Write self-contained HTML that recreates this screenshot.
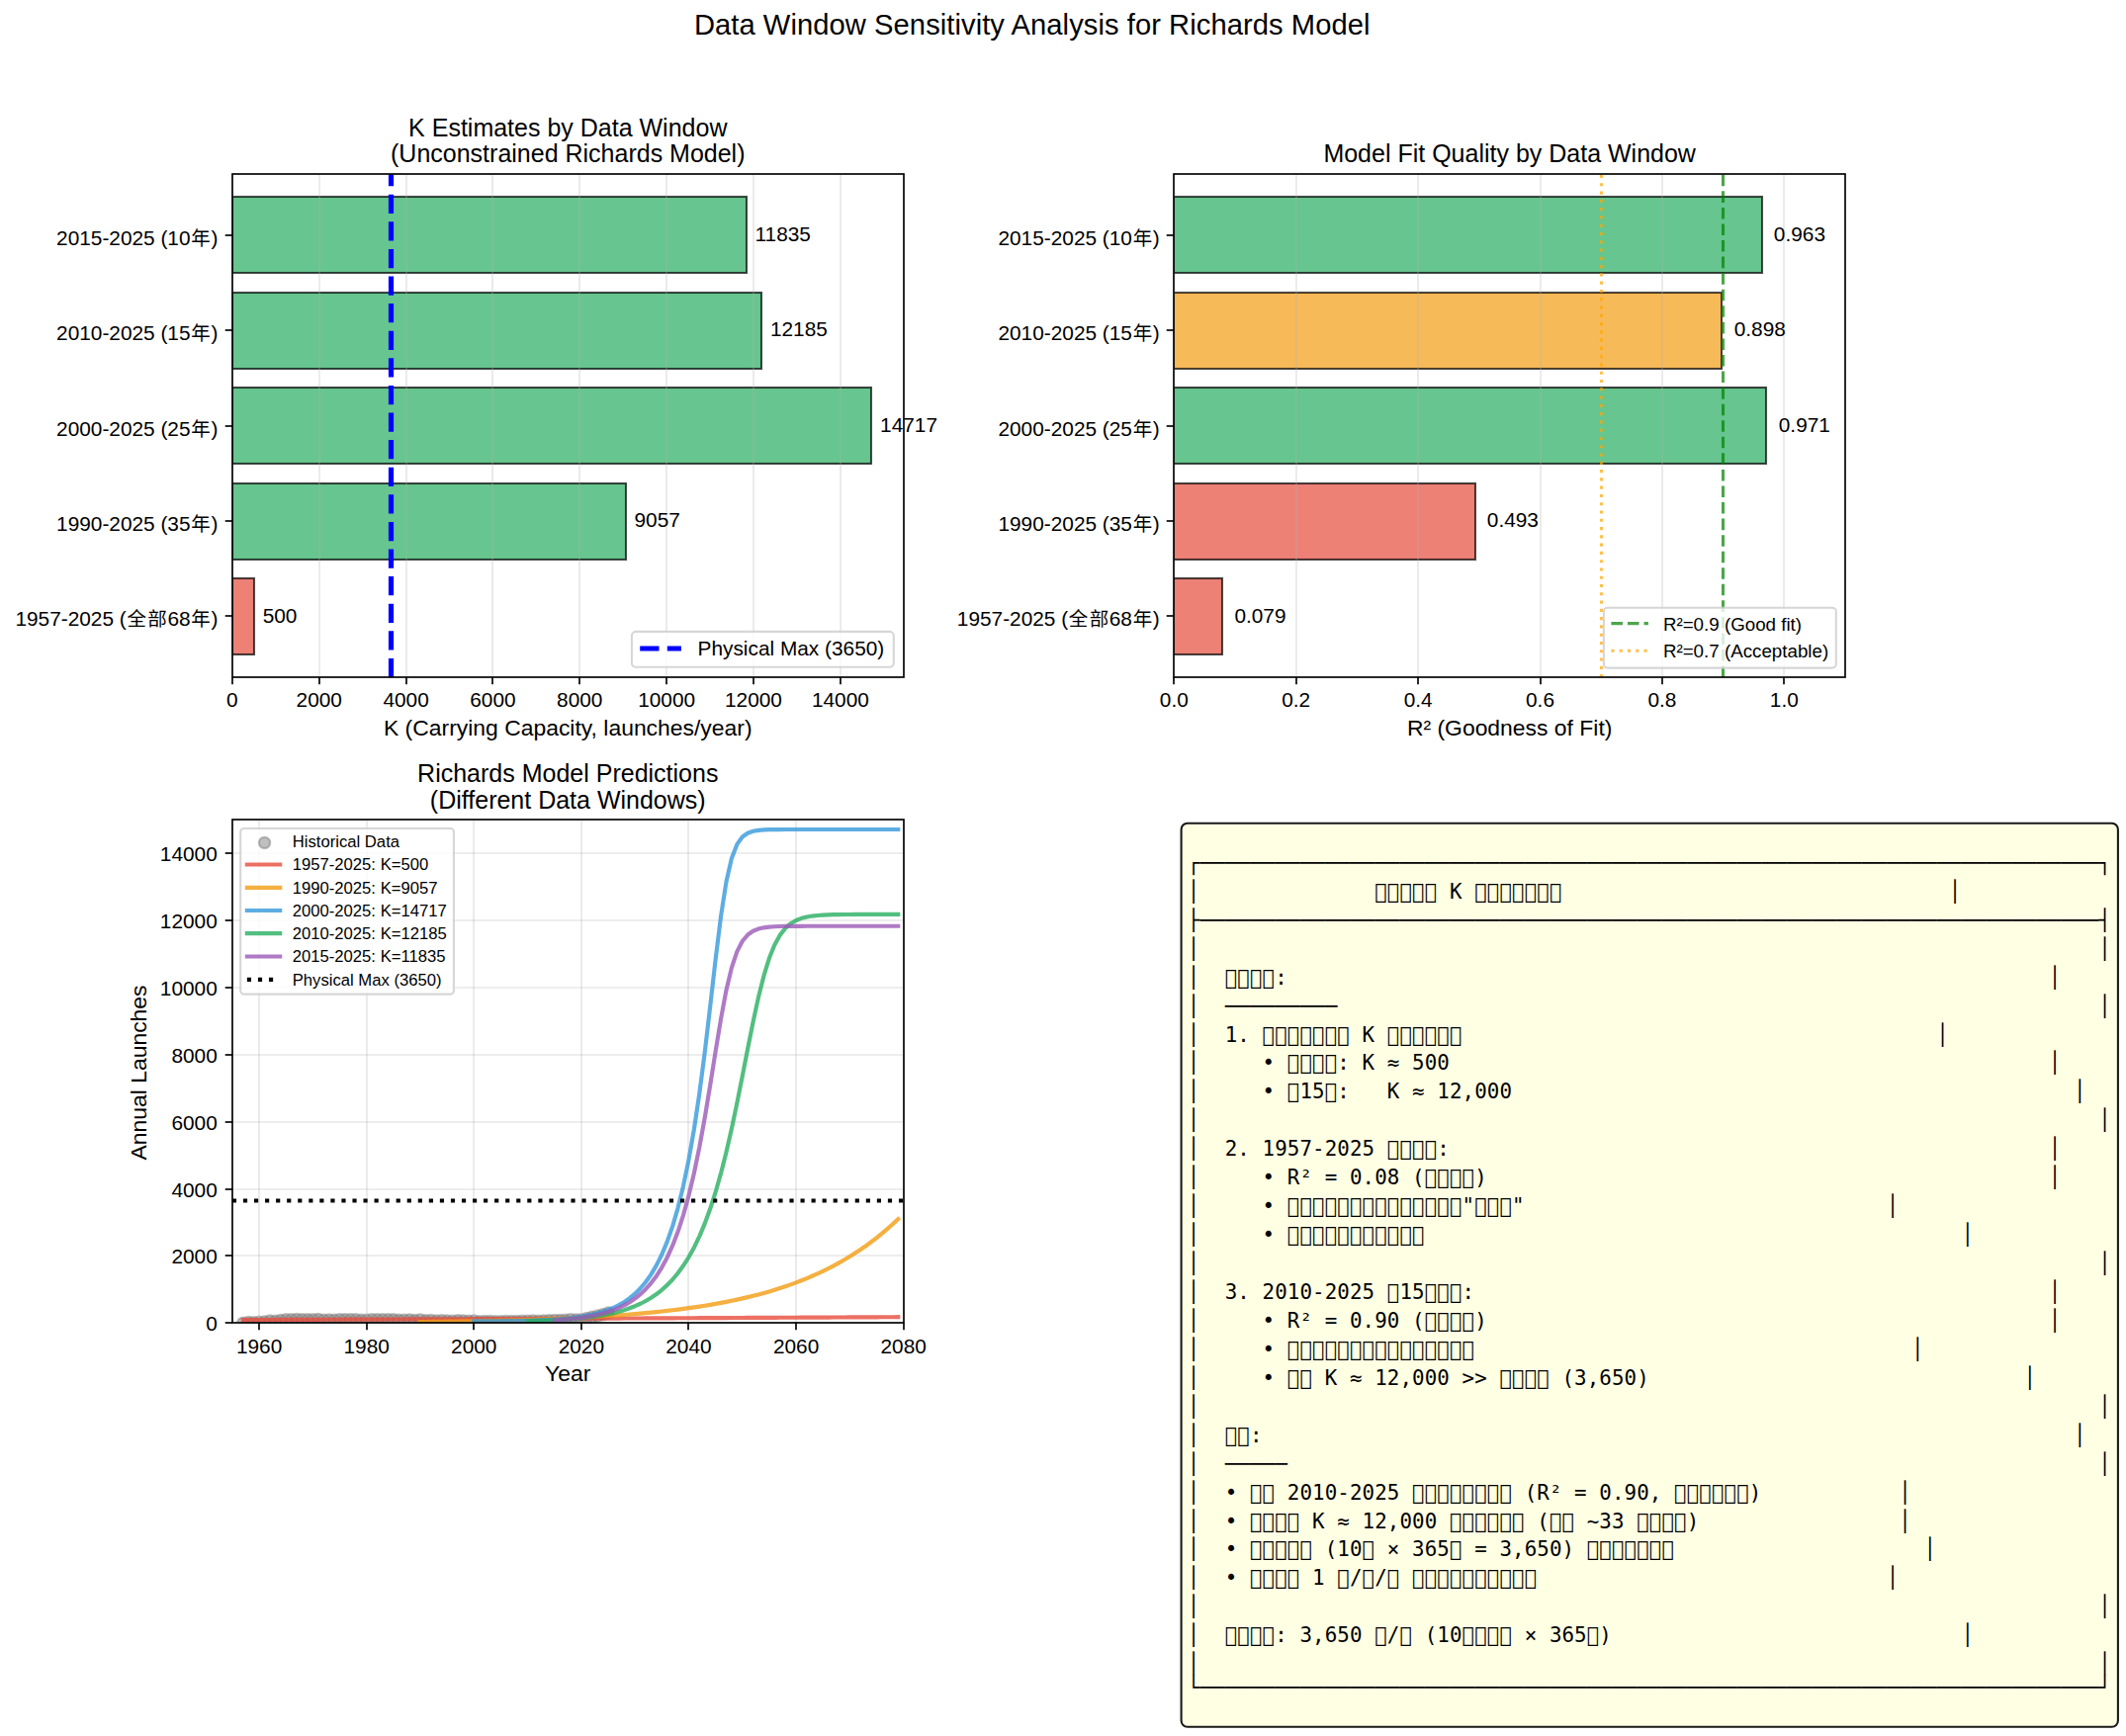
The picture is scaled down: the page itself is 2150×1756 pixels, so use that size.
<!DOCTYPE html>
<html lang="zh"><head><meta charset="utf-8"><title>Data Window Sensitivity Analysis for Richards Model</title>
<style>html,body{margin:0;padding:0;background:#fff}svg{display:block}.m text{white-space:pre}</style></head>
<body>
<svg width="2150" height="1756" viewBox="0 0 2150 1756" font-family="Liberation Sans, Noto Sans CJK SC, sans-serif">
<rect width="2150" height="1756" fill="#fff"/>
<defs>
<clipPath id="c1"><rect x="234.90" y="176.20" width="678.75" height="508.97"/></clipPath>
<clipPath id="c2"><rect x="1187.30" y="176.20" width="678.75" height="508.97"/></clipPath>
<clipPath id="c3"><rect x="234.90" y="829.40" width="678.75" height="508.90"/></clipPath>
</defs>
<text x="1043.70" y="34.90" font-size="29.167" text-anchor="middle" fill="#000" letter-spacing="0.06">Data Window Sensitivity Analysis for Richards Model</text>
<g clip-path="url(#c1)">
<rect x="235.00" y="199.00" width="520.00" height="77.00" fill="#27ae60" fill-opacity="0.7" stroke="#000" stroke-opacity="0.7" stroke-width="2.083"/>
<rect x="235.00" y="296.00" width="535.00" height="77.00" fill="#27ae60" fill-opacity="0.7" stroke="#000" stroke-opacity="0.7" stroke-width="2.083"/>
<rect x="235.00" y="392.00" width="646.00" height="77.00" fill="#27ae60" fill-opacity="0.7" stroke="#000" stroke-opacity="0.7" stroke-width="2.083"/>
<rect x="235.00" y="489.00" width="398.00" height="77.00" fill="#27ae60" fill-opacity="0.7" stroke="#000" stroke-opacity="0.7" stroke-width="2.083"/>
<rect x="235.00" y="585.00" width="22.00" height="77.00" fill="#e74c3c" fill-opacity="0.7" stroke="#000" stroke-opacity="0.7" stroke-width="2.083"/>
<line x1="235.00" y1="176.20" x2="235.00" y2="685.17" stroke="#b0b0b0" stroke-width="1.667" stroke-opacity="0.3"/>
<line x1="323.00" y1="176.20" x2="323.00" y2="685.17" stroke="#b0b0b0" stroke-width="1.667" stroke-opacity="0.3"/>
<line x1="411.00" y1="176.20" x2="411.00" y2="685.17" stroke="#b0b0b0" stroke-width="1.667" stroke-opacity="0.3"/>
<line x1="498.00" y1="176.20" x2="498.00" y2="685.17" stroke="#b0b0b0" stroke-width="1.667" stroke-opacity="0.3"/>
<line x1="586.00" y1="176.20" x2="586.00" y2="685.17" stroke="#b0b0b0" stroke-width="1.667" stroke-opacity="0.3"/>
<line x1="674.00" y1="176.20" x2="674.00" y2="685.17" stroke="#b0b0b0" stroke-width="1.667" stroke-opacity="0.3"/>
<line x1="762.00" y1="176.20" x2="762.00" y2="685.17" stroke="#b0b0b0" stroke-width="1.667" stroke-opacity="0.3"/>
<line x1="850.00" y1="176.20" x2="850.00" y2="685.17" stroke="#b0b0b0" stroke-width="1.667" stroke-opacity="0.3"/>
<line x1="395.50" y1="685.17" x2="395.50" y2="176.20" stroke="#0000ff" stroke-width="5.208" stroke-dasharray="19.27 8.33"/>
</g>
<text x="763.52" y="244.04" font-size="20.833" text-anchor="start" fill="#000" >11835</text>
<text x="778.90" y="340.44" font-size="20.833" text-anchor="start" fill="#000" >12185</text>
<text x="890.11" y="436.83" font-size="20.833" text-anchor="start" fill="#000" >14717</text>
<text x="641.50" y="533.23" font-size="20.833" text-anchor="start" fill="#000" >9057</text>
<text x="265.65" y="629.63" font-size="20.833" text-anchor="start" fill="#000" >500</text>
<rect x="235.00" y="176.00" width="679.00" height="509.00" fill="none" stroke="#000" stroke-width="1.667"/>
<line x1="235.00" y1="685.00" x2="235.00" y2="692.29" stroke="#000" stroke-width="1.667" />
<text x="234.90" y="715.00" font-size="20.833" text-anchor="middle" fill="#000" >0</text>
<line x1="323.00" y1="685.00" x2="323.00" y2="692.29" stroke="#000" stroke-width="1.667" />
<text x="322.75" y="715.00" font-size="20.833" text-anchor="middle" fill="#000" >2000</text>
<line x1="411.00" y1="685.00" x2="411.00" y2="692.29" stroke="#000" stroke-width="1.667" />
<text x="410.60" y="715.00" font-size="20.833" text-anchor="middle" fill="#000" >4000</text>
<line x1="498.00" y1="685.00" x2="498.00" y2="692.29" stroke="#000" stroke-width="1.667" />
<text x="498.44" y="715.00" font-size="20.833" text-anchor="middle" fill="#000" >6000</text>
<line x1="586.00" y1="685.00" x2="586.00" y2="692.29" stroke="#000" stroke-width="1.667" />
<text x="586.29" y="715.00" font-size="20.833" text-anchor="middle" fill="#000" >8000</text>
<line x1="674.00" y1="685.00" x2="674.00" y2="692.29" stroke="#000" stroke-width="1.667" />
<text x="674.14" y="715.00" font-size="20.833" text-anchor="middle" fill="#000" >10000</text>
<line x1="762.00" y1="685.00" x2="762.00" y2="692.29" stroke="#000" stroke-width="1.667" />
<text x="761.99" y="715.00" font-size="20.833" text-anchor="middle" fill="#000" >12000</text>
<line x1="850.00" y1="685.00" x2="850.00" y2="692.29" stroke="#000" stroke-width="1.667" />
<text x="849.84" y="715.00" font-size="20.833" text-anchor="middle" fill="#000" >14000</text>
<line x1="227.71" y1="238.00" x2="235.00" y2="238.00" stroke="#000" stroke-width="1.667" />
<text x="220.32" y="247.70" font-size="20.833" text-anchor="end" fill="#000" >2015-2025 (10<tspan font-size="19.479" dx="0.68" letter-spacing="1.35">年</tspan><tspan dx="-0.68">)</tspan></text>
<line x1="227.71" y1="334.00" x2="235.00" y2="334.00" stroke="#000" stroke-width="1.667" />
<text x="220.32" y="343.70" font-size="20.833" text-anchor="end" fill="#000" >2010-2025 (15<tspan font-size="19.479" dx="0.68" letter-spacing="1.35">年</tspan><tspan dx="-0.68">)</tspan></text>
<line x1="227.71" y1="431.00" x2="235.00" y2="431.00" stroke="#000" stroke-width="1.667" />
<text x="220.32" y="440.70" font-size="20.833" text-anchor="end" fill="#000" >2000-2025 (25<tspan font-size="19.479" dx="0.68" letter-spacing="1.35">年</tspan><tspan dx="-0.68">)</tspan></text>
<line x1="227.71" y1="527.00" x2="235.00" y2="527.00" stroke="#000" stroke-width="1.667" />
<text x="220.32" y="536.70" font-size="20.833" text-anchor="end" fill="#000" >1990-2025 (35<tspan font-size="19.479" dx="0.68" letter-spacing="1.35">年</tspan><tspan dx="-0.68">)</tspan></text>
<line x1="227.71" y1="623.00" x2="235.00" y2="623.00" stroke="#000" stroke-width="1.667" />
<text x="220.32" y="632.70" font-size="20.833" text-anchor="end" fill="#000" >1957-2025 (<tspan font-size="19.479" dx="0.68" letter-spacing="1.35">全部</tspan><tspan dx="-0.68">68</tspan><tspan font-size="19.479" dx="0.68" letter-spacing="1.35">年</tspan><tspan dx="-0.68">)</tspan></text>
<text x="574.27" y="138.00" font-size="25.000" text-anchor="middle" fill="#000" >K Estimates by Data Window</text>
<text x="574.27" y="164.00" font-size="25.000" text-anchor="middle" fill="#000" >(Unconstrained Richards Model)</text>
<text x="574.27" y="743.60" font-size="22.917" text-anchor="middle" fill="#000" >K (Carrying Capacity, launches/year)</text>
<rect x="638.90" y="638.90" width="264.90" height="35.90" rx="4.17" ry="4.17" fill="#fff" fill-opacity="0.8" stroke="#ccc" stroke-opacity="0.8" stroke-width="2.083"/>
<line x1="647.23" y1="656.00" x2="688.90" y2="656.00" stroke="#0000ff" stroke-width="5.208" stroke-dasharray="19.27 8.33"/>
<text x="705.57" y="663.00" font-size="20.833" text-anchor="start" fill="#000" >Physical Max (3650)</text>
<g clip-path="url(#c2)">
<rect x="1187.00" y="199.00" width="595.00" height="77.00" fill="#27ae60" fill-opacity="0.7" stroke="#000" stroke-opacity="0.7" stroke-width="2.083"/>
<rect x="1187.00" y="296.00" width="554.00" height="77.00" fill="#f39c12" fill-opacity="0.7" stroke="#000" stroke-opacity="0.7" stroke-width="2.083"/>
<rect x="1187.00" y="392.00" width="599.00" height="77.00" fill="#27ae60" fill-opacity="0.7" stroke="#000" stroke-opacity="0.7" stroke-width="2.083"/>
<rect x="1187.00" y="489.00" width="305.00" height="77.00" fill="#e74c3c" fill-opacity="0.7" stroke="#000" stroke-opacity="0.7" stroke-width="2.083"/>
<rect x="1187.00" y="585.00" width="49.00" height="77.00" fill="#e74c3c" fill-opacity="0.7" stroke="#000" stroke-opacity="0.7" stroke-width="2.083"/>
<line x1="1187.00" y1="176.20" x2="1187.00" y2="685.17" stroke="#b0b0b0" stroke-width="1.667" stroke-opacity="0.3"/>
<line x1="1311.00" y1="176.20" x2="1311.00" y2="685.17" stroke="#b0b0b0" stroke-width="1.667" stroke-opacity="0.3"/>
<line x1="1434.00" y1="176.20" x2="1434.00" y2="685.17" stroke="#b0b0b0" stroke-width="1.667" stroke-opacity="0.3"/>
<line x1="1558.00" y1="176.20" x2="1558.00" y2="685.17" stroke="#b0b0b0" stroke-width="1.667" stroke-opacity="0.3"/>
<line x1="1681.00" y1="176.20" x2="1681.00" y2="685.17" stroke="#b0b0b0" stroke-width="1.667" stroke-opacity="0.3"/>
<line x1="1804.00" y1="176.20" x2="1804.00" y2="685.17" stroke="#b0b0b0" stroke-width="1.667" stroke-opacity="0.3"/>
<line x1="1742.50" y1="685.17" x2="1742.50" y2="176.20" stroke="#008000" stroke-opacity="0.7" stroke-width="3.125" stroke-dasharray="11.56 5.00"/>
<line x1="1619.50" y1="685.17" x2="1619.50" y2="176.20" stroke="#ffa500" stroke-opacity="0.7" stroke-width="3.125" stroke-dasharray="3.12 5.16"/>
</g>
<text x="1793.86" y="244.04" font-size="20.833" text-anchor="start" fill="#000" >0.963</text>
<text x="1753.75" y="340.44" font-size="20.833" text-anchor="start" fill="#000" >0.898</text>
<text x="1798.79" y="436.83" font-size="20.833" text-anchor="start" fill="#000" >0.971</text>
<text x="1503.84" y="533.23" font-size="20.833" text-anchor="start" fill="#000" >0.493</text>
<text x="1248.39" y="629.63" font-size="20.833" text-anchor="start" fill="#000" >0.079</text>
<rect x="1187.00" y="176.00" width="679.00" height="509.00" fill="none" stroke="#000" stroke-width="1.667"/>
<line x1="1187.00" y1="685.00" x2="1187.00" y2="692.29" stroke="#000" stroke-width="1.667" />
<text x="1187.30" y="715.00" font-size="20.833" text-anchor="middle" fill="#000" >0.0</text>
<line x1="1311.00" y1="685.00" x2="1311.00" y2="692.29" stroke="#000" stroke-width="1.667" />
<text x="1310.71" y="715.00" font-size="20.833" text-anchor="middle" fill="#000" >0.2</text>
<line x1="1434.00" y1="685.00" x2="1434.00" y2="692.29" stroke="#000" stroke-width="1.667" />
<text x="1434.12" y="715.00" font-size="20.833" text-anchor="middle" fill="#000" >0.4</text>
<line x1="1558.00" y1="685.00" x2="1558.00" y2="692.29" stroke="#000" stroke-width="1.667" />
<text x="1557.53" y="715.00" font-size="20.833" text-anchor="middle" fill="#000" >0.6</text>
<line x1="1681.00" y1="685.00" x2="1681.00" y2="692.29" stroke="#000" stroke-width="1.667" />
<text x="1680.94" y="715.00" font-size="20.833" text-anchor="middle" fill="#000" >0.8</text>
<line x1="1804.00" y1="685.00" x2="1804.00" y2="692.29" stroke="#000" stroke-width="1.667" />
<text x="1804.35" y="715.00" font-size="20.833" text-anchor="middle" fill="#000" >1.0</text>
<line x1="1179.71" y1="238.00" x2="1187.00" y2="238.00" stroke="#000" stroke-width="1.667" />
<text x="1172.72" y="247.70" font-size="20.833" text-anchor="end" fill="#000" >2015-2025 (10<tspan font-size="19.479" dx="0.68" letter-spacing="1.35">年</tspan><tspan dx="-0.68">)</tspan></text>
<line x1="1179.71" y1="334.00" x2="1187.00" y2="334.00" stroke="#000" stroke-width="1.667" />
<text x="1172.72" y="343.70" font-size="20.833" text-anchor="end" fill="#000" >2010-2025 (15<tspan font-size="19.479" dx="0.68" letter-spacing="1.35">年</tspan><tspan dx="-0.68">)</tspan></text>
<line x1="1179.71" y1="431.00" x2="1187.00" y2="431.00" stroke="#000" stroke-width="1.667" />
<text x="1172.72" y="440.70" font-size="20.833" text-anchor="end" fill="#000" >2000-2025 (25<tspan font-size="19.479" dx="0.68" letter-spacing="1.35">年</tspan><tspan dx="-0.68">)</tspan></text>
<line x1="1179.71" y1="527.00" x2="1187.00" y2="527.00" stroke="#000" stroke-width="1.667" />
<text x="1172.72" y="536.70" font-size="20.833" text-anchor="end" fill="#000" >1990-2025 (35<tspan font-size="19.479" dx="0.68" letter-spacing="1.35">年</tspan><tspan dx="-0.68">)</tspan></text>
<line x1="1179.71" y1="623.00" x2="1187.00" y2="623.00" stroke="#000" stroke-width="1.667" />
<text x="1172.72" y="632.70" font-size="20.833" text-anchor="end" fill="#000" >1957-2025 (<tspan font-size="19.479" dx="0.68" letter-spacing="1.35">全部</tspan><tspan dx="-0.68">68</tspan><tspan font-size="19.479" dx="0.68" letter-spacing="1.35">年</tspan><tspan dx="-0.68">)</tspan></text>
<text x="1526.67" y="164.00" font-size="25.000" text-anchor="middle" fill="#000" >Model Fit Quality by Data Window</text>
<text x="1526.67" y="743.60" font-size="22.917" text-anchor="middle" fill="#000" >R² (Goodness of Fit)</text>
<rect x="1621.90" y="614.70" width="234.90" height="60.90" rx="3.75" ry="3.75" fill="#fff" fill-opacity="0.8" stroke="#ccc" stroke-opacity="0.8" stroke-width="2.083"/>
<line x1="1629.40" y1="630.60" x2="1666.90" y2="630.60" stroke="#008000" stroke-opacity="0.7" stroke-width="3.125" stroke-dasharray="11.56 5.00"/>
<line x1="1629.40" y1="658.20" x2="1666.90" y2="658.20" stroke="#ffa500" stroke-opacity="0.7" stroke-width="3.125" stroke-dasharray="3.12 5.16"/>
<text x="1681.90" y="638.00" font-size="18.750" text-anchor="start" fill="#000" >R²=0.9 (Good fit)</text>
<text x="1681.90" y="664.70" font-size="18.750" text-anchor="start" fill="#000" >R²=0.7 (Acceptable)</text>
<g clip-path="url(#c3)">
<circle cx="245.76" cy="1338.22" r="5.71" fill="#808080" fill-opacity="0.5" stroke="#808080" stroke-opacity="0.5" stroke-width="2.083"/>
<circle cx="251.19" cy="1337.52" r="5.71" fill="#808080" fill-opacity="0.5" stroke="#808080" stroke-opacity="0.5" stroke-width="2.083"/>
<circle cx="256.62" cy="1337.66" r="5.71" fill="#808080" fill-opacity="0.5" stroke="#808080" stroke-opacity="0.5" stroke-width="2.083"/>
<circle cx="262.05" cy="1337.24" r="5.71" fill="#808080" fill-opacity="0.5" stroke="#808080" stroke-opacity="0.5" stroke-width="2.083"/>
<circle cx="267.48" cy="1336.91" r="5.71" fill="#808080" fill-opacity="0.5" stroke="#808080" stroke-opacity="0.5" stroke-width="2.083"/>
<circle cx="272.91" cy="1336.05" r="5.71" fill="#808080" fill-opacity="0.5" stroke="#808080" stroke-opacity="0.5" stroke-width="2.083"/>
<circle cx="278.34" cy="1336.35" r="5.71" fill="#808080" fill-opacity="0.5" stroke="#808080" stroke-opacity="0.5" stroke-width="2.083"/>
<circle cx="283.77" cy="1335.52" r="5.71" fill="#808080" fill-opacity="0.5" stroke="#808080" stroke-opacity="0.5" stroke-width="2.083"/>
<circle cx="289.20" cy="1334.85" r="5.71" fill="#808080" fill-opacity="0.5" stroke="#808080" stroke-opacity="0.5" stroke-width="2.083"/>
<circle cx="294.63" cy="1334.66" r="5.71" fill="#808080" fill-opacity="0.5" stroke="#808080" stroke-opacity="0.5" stroke-width="2.083"/>
<circle cx="300.06" cy="1334.43" r="5.71" fill="#808080" fill-opacity="0.5" stroke="#808080" stroke-opacity="0.5" stroke-width="2.083"/>
<circle cx="305.49" cy="1334.74" r="5.71" fill="#808080" fill-opacity="0.5" stroke="#808080" stroke-opacity="0.5" stroke-width="2.083"/>
<circle cx="310.92" cy="1334.82" r="5.71" fill="#808080" fill-opacity="0.5" stroke="#808080" stroke-opacity="0.5" stroke-width="2.083"/>
<circle cx="316.35" cy="1334.85" r="5.71" fill="#808080" fill-opacity="0.5" stroke="#808080" stroke-opacity="0.5" stroke-width="2.083"/>
<circle cx="321.78" cy="1334.57" r="5.71" fill="#808080" fill-opacity="0.5" stroke="#808080" stroke-opacity="0.5" stroke-width="2.083"/>
<circle cx="327.21" cy="1335.16" r="5.71" fill="#808080" fill-opacity="0.5" stroke="#808080" stroke-opacity="0.5" stroke-width="2.083"/>
<circle cx="332.64" cy="1335.05" r="5.71" fill="#808080" fill-opacity="0.5" stroke="#808080" stroke-opacity="0.5" stroke-width="2.083"/>
<circle cx="338.07" cy="1335.16" r="5.71" fill="#808080" fill-opacity="0.5" stroke="#808080" stroke-opacity="0.5" stroke-width="2.083"/>
<circle cx="343.50" cy="1334.63" r="5.71" fill="#808080" fill-opacity="0.5" stroke="#808080" stroke-opacity="0.5" stroke-width="2.083"/>
<circle cx="348.93" cy="1334.66" r="5.71" fill="#808080" fill-opacity="0.5" stroke="#808080" stroke-opacity="0.5" stroke-width="2.083"/>
<circle cx="354.36" cy="1334.68" r="5.71" fill="#808080" fill-opacity="0.5" stroke="#808080" stroke-opacity="0.5" stroke-width="2.083"/>
<circle cx="359.79" cy="1334.74" r="5.71" fill="#808080" fill-opacity="0.5" stroke="#808080" stroke-opacity="0.5" stroke-width="2.083"/>
<circle cx="365.22" cy="1335.21" r="5.71" fill="#808080" fill-opacity="0.5" stroke="#808080" stroke-opacity="0.5" stroke-width="2.083"/>
<circle cx="370.65" cy="1335.27" r="5.71" fill="#808080" fill-opacity="0.5" stroke="#808080" stroke-opacity="0.5" stroke-width="2.083"/>
<circle cx="376.08" cy="1334.79" r="5.71" fill="#808080" fill-opacity="0.5" stroke="#808080" stroke-opacity="0.5" stroke-width="2.083"/>
<circle cx="381.51" cy="1334.71" r="5.71" fill="#808080" fill-opacity="0.5" stroke="#808080" stroke-opacity="0.5" stroke-width="2.083"/>
<circle cx="386.94" cy="1334.71" r="5.71" fill="#808080" fill-opacity="0.5" stroke="#808080" stroke-opacity="0.5" stroke-width="2.083"/>
<circle cx="392.37" cy="1334.71" r="5.71" fill="#808080" fill-opacity="0.5" stroke="#808080" stroke-opacity="0.5" stroke-width="2.083"/>
<circle cx="397.80" cy="1334.82" r="5.71" fill="#808080" fill-opacity="0.5" stroke="#808080" stroke-opacity="0.5" stroke-width="2.083"/>
<circle cx="403.23" cy="1335.24" r="5.71" fill="#808080" fill-opacity="0.5" stroke="#808080" stroke-opacity="0.5" stroke-width="2.083"/>
<circle cx="408.66" cy="1335.13" r="5.71" fill="#808080" fill-opacity="0.5" stroke="#808080" stroke-opacity="0.5" stroke-width="2.083"/>
<circle cx="414.09" cy="1334.93" r="5.71" fill="#808080" fill-opacity="0.5" stroke="#808080" stroke-opacity="0.5" stroke-width="2.083"/>
<circle cx="419.52" cy="1335.46" r="5.71" fill="#808080" fill-opacity="0.5" stroke="#808080" stroke-opacity="0.5" stroke-width="2.083"/>
<circle cx="424.95" cy="1334.93" r="5.71" fill="#808080" fill-opacity="0.5" stroke="#808080" stroke-opacity="0.5" stroke-width="2.083"/>
<circle cx="430.38" cy="1335.77" r="5.71" fill="#808080" fill-opacity="0.5" stroke="#808080" stroke-opacity="0.5" stroke-width="2.083"/>
<circle cx="435.81" cy="1335.60" r="5.71" fill="#808080" fill-opacity="0.5" stroke="#808080" stroke-opacity="0.5" stroke-width="2.083"/>
<circle cx="441.24" cy="1335.99" r="5.71" fill="#808080" fill-opacity="0.5" stroke="#808080" stroke-opacity="0.5" stroke-width="2.083"/>
<circle cx="446.67" cy="1335.71" r="5.71" fill="#808080" fill-opacity="0.5" stroke="#808080" stroke-opacity="0.5" stroke-width="2.083"/>
<circle cx="452.10" cy="1336.07" r="5.71" fill="#808080" fill-opacity="0.5" stroke="#808080" stroke-opacity="0.5" stroke-width="2.083"/>
<circle cx="457.53" cy="1336.16" r="5.71" fill="#808080" fill-opacity="0.5" stroke="#808080" stroke-opacity="0.5" stroke-width="2.083"/>
<circle cx="462.96" cy="1335.82" r="5.71" fill="#808080" fill-opacity="0.5" stroke="#808080" stroke-opacity="0.5" stroke-width="2.083"/>
<circle cx="468.39" cy="1336.02" r="5.71" fill="#808080" fill-opacity="0.5" stroke="#808080" stroke-opacity="0.5" stroke-width="2.083"/>
<circle cx="473.82" cy="1336.13" r="5.71" fill="#808080" fill-opacity="0.5" stroke="#808080" stroke-opacity="0.5" stroke-width="2.083"/>
<circle cx="479.25" cy="1335.94" r="5.71" fill="#808080" fill-opacity="0.5" stroke="#808080" stroke-opacity="0.5" stroke-width="2.083"/>
<circle cx="484.68" cy="1336.66" r="5.71" fill="#808080" fill-opacity="0.5" stroke="#808080" stroke-opacity="0.5" stroke-width="2.083"/>
<circle cx="490.11" cy="1336.49" r="5.71" fill="#808080" fill-opacity="0.5" stroke="#808080" stroke-opacity="0.5" stroke-width="2.083"/>
<circle cx="495.54" cy="1336.55" r="5.71" fill="#808080" fill-opacity="0.5" stroke="#808080" stroke-opacity="0.5" stroke-width="2.083"/>
<circle cx="500.97" cy="1336.80" r="5.71" fill="#808080" fill-opacity="0.5" stroke="#808080" stroke-opacity="0.5" stroke-width="2.083"/>
<circle cx="506.40" cy="1336.77" r="5.71" fill="#808080" fill-opacity="0.5" stroke="#808080" stroke-opacity="0.5" stroke-width="2.083"/>
<circle cx="511.83" cy="1336.46" r="5.71" fill="#808080" fill-opacity="0.5" stroke="#808080" stroke-opacity="0.5" stroke-width="2.083"/>
<circle cx="517.26" cy="1336.41" r="5.71" fill="#808080" fill-opacity="0.5" stroke="#808080" stroke-opacity="0.5" stroke-width="2.083"/>
<circle cx="522.69" cy="1336.38" r="5.71" fill="#808080" fill-opacity="0.5" stroke="#808080" stroke-opacity="0.5" stroke-width="2.083"/>
<circle cx="528.12" cy="1336.13" r="5.71" fill="#808080" fill-opacity="0.5" stroke="#808080" stroke-opacity="0.5" stroke-width="2.083"/>
<circle cx="533.55" cy="1336.24" r="5.71" fill="#808080" fill-opacity="0.5" stroke="#808080" stroke-opacity="0.5" stroke-width="2.083"/>
<circle cx="538.98" cy="1335.96" r="5.71" fill="#808080" fill-opacity="0.5" stroke="#808080" stroke-opacity="0.5" stroke-width="2.083"/>
<circle cx="544.41" cy="1336.13" r="5.71" fill="#808080" fill-opacity="0.5" stroke="#808080" stroke-opacity="0.5" stroke-width="2.083"/>
<circle cx="549.84" cy="1336.05" r="5.71" fill="#808080" fill-opacity="0.5" stroke="#808080" stroke-opacity="0.5" stroke-width="2.083"/>
<circle cx="555.27" cy="1335.74" r="5.71" fill="#808080" fill-opacity="0.5" stroke="#808080" stroke-opacity="0.5" stroke-width="2.083"/>
<circle cx="560.70" cy="1335.50" r="5.71" fill="#808080" fill-opacity="0.5" stroke="#808080" stroke-opacity="0.5" stroke-width="2.083"/>
<circle cx="566.13" cy="1335.56" r="5.71" fill="#808080" fill-opacity="0.5" stroke="#808080" stroke-opacity="0.5" stroke-width="2.083"/>
<circle cx="571.56" cy="1335.37" r="5.71" fill="#808080" fill-opacity="0.5" stroke="#808080" stroke-opacity="0.5" stroke-width="2.083"/>
<circle cx="576.99" cy="1334.63" r="5.71" fill="#808080" fill-opacity="0.5" stroke="#808080" stroke-opacity="0.5" stroke-width="2.083"/>
<circle cx="582.42" cy="1335.01" r="5.71" fill="#808080" fill-opacity="0.5" stroke="#808080" stroke-opacity="0.5" stroke-width="2.083"/>
<circle cx="587.85" cy="1334.63" r="5.71" fill="#808080" fill-opacity="0.5" stroke="#808080" stroke-opacity="0.5" stroke-width="2.083"/>
<circle cx="593.28" cy="1333.59" r="5.71" fill="#808080" fill-opacity="0.5" stroke="#808080" stroke-opacity="0.5" stroke-width="2.083"/>
<circle cx="598.71" cy="1332.31" r="5.71" fill="#808080" fill-opacity="0.5" stroke="#808080" stroke-opacity="0.5" stroke-width="2.083"/>
<circle cx="604.14" cy="1331.11" r="5.71" fill="#808080" fill-opacity="0.5" stroke="#808080" stroke-opacity="0.5" stroke-width="2.083"/>
<circle cx="609.57" cy="1329.82" r="5.71" fill="#808080" fill-opacity="0.5" stroke="#808080" stroke-opacity="0.5" stroke-width="2.083"/>
<circle cx="615.00" cy="1327.99" r="5.71" fill="#808080" fill-opacity="0.5" stroke="#808080" stroke-opacity="0.5" stroke-width="2.083"/>
<line x1="262.00" y1="829.40" x2="262.00" y2="1338.30" stroke="#b0b0b0" stroke-width="1.667" stroke-opacity="0.3"/>
<line x1="371.00" y1="829.40" x2="371.00" y2="1338.30" stroke="#b0b0b0" stroke-width="1.667" stroke-opacity="0.3"/>
<line x1="479.00" y1="829.40" x2="479.00" y2="1338.30" stroke="#b0b0b0" stroke-width="1.667" stroke-opacity="0.3"/>
<line x1="588.00" y1="829.40" x2="588.00" y2="1338.30" stroke="#b0b0b0" stroke-width="1.667" stroke-opacity="0.3"/>
<line x1="696.00" y1="829.40" x2="696.00" y2="1338.30" stroke="#b0b0b0" stroke-width="1.667" stroke-opacity="0.3"/>
<line x1="805.00" y1="829.40" x2="805.00" y2="1338.30" stroke="#b0b0b0" stroke-width="1.667" stroke-opacity="0.3"/>
<line x1="914.00" y1="829.40" x2="914.00" y2="1338.30" stroke="#b0b0b0" stroke-width="1.667" stroke-opacity="0.3"/>
<line x1="234.90" y1="1338.00" x2="913.65" y2="1338.00" stroke="#b0b0b0" stroke-width="1.667" stroke-opacity="0.3"/>
<line x1="234.90" y1="1270.00" x2="913.65" y2="1270.00" stroke="#b0b0b0" stroke-width="1.667" stroke-opacity="0.3"/>
<line x1="234.90" y1="1203.00" x2="913.65" y2="1203.00" stroke="#b0b0b0" stroke-width="1.667" stroke-opacity="0.3"/>
<line x1="234.90" y1="1135.00" x2="913.65" y2="1135.00" stroke="#b0b0b0" stroke-width="1.667" stroke-opacity="0.3"/>
<line x1="234.90" y1="1067.00" x2="913.65" y2="1067.00" stroke="#b0b0b0" stroke-width="1.667" stroke-opacity="0.3"/>
<line x1="234.90" y1="999.00" x2="913.65" y2="999.00" stroke="#b0b0b0" stroke-width="1.667" stroke-opacity="0.3"/>
<line x1="234.90" y1="931.00" x2="913.65" y2="931.00" stroke="#b0b0b0" stroke-width="1.667" stroke-opacity="0.3"/>
<line x1="234.90" y1="863.00" x2="913.65" y2="863.00" stroke="#b0b0b0" stroke-width="1.667" stroke-opacity="0.3"/>
<polyline points="245.76,1335.07 251.19,1335.05 256.62,1335.03 262.05,1335.02 267.48,1335.00 272.91,1334.98 278.34,1334.96 283.77,1334.94 289.20,1334.92 294.63,1334.90 300.06,1334.88 305.49,1334.86 310.92,1334.84 316.35,1334.82 321.78,1334.80 327.21,1334.78 332.64,1334.76 338.07,1334.74 343.50,1334.72 348.93,1334.70 354.36,1334.68 359.79,1334.66 365.22,1334.64 370.65,1334.62 376.08,1334.60 381.51,1334.58 386.94,1334.56 392.37,1334.54 397.80,1334.52 403.23,1334.49 408.66,1334.47 414.09,1334.45 419.52,1334.43 424.95,1334.41 430.38,1334.39 435.81,1334.37 441.24,1334.34 446.67,1334.32 452.10,1334.30 457.53,1334.28 462.96,1334.26 468.39,1334.23 473.82,1334.21 479.25,1334.19 484.68,1334.17 490.11,1334.14 495.54,1334.12 500.97,1334.10 506.40,1334.08 511.83,1334.05 517.26,1334.03 522.69,1334.01 528.12,1333.99 533.55,1333.96 538.98,1333.94 544.41,1333.92 549.84,1333.89 555.27,1333.87 560.70,1333.85 566.13,1333.82 571.56,1333.80 576.99,1333.77 582.42,1333.75 587.85,1333.73 593.28,1333.70 598.71,1333.68 604.14,1333.65 609.57,1333.63 615.00,1333.61 620.43,1333.58 625.86,1333.56 631.29,1333.53 636.72,1333.51 642.15,1333.48 647.58,1333.46 653.01,1333.43 658.44,1333.41 663.87,1333.38 669.30,1333.36 674.73,1333.33 680.16,1333.31 685.59,1333.28 691.02,1333.26 696.45,1333.23 701.88,1333.21 707.31,1333.18 712.74,1333.16 718.17,1333.13 723.60,1333.10 729.03,1333.08 734.46,1333.05 739.89,1333.03 745.32,1333.00 750.75,1332.97 756.18,1332.95 761.61,1332.92 767.04,1332.89 772.47,1332.87 777.90,1332.84 783.33,1332.82 788.76,1332.79 794.19,1332.76 799.62,1332.74 805.05,1332.71 810.48,1332.68 815.91,1332.65 821.34,1332.63 826.77,1332.60 832.20,1332.57 837.63,1332.55 843.06,1332.52 848.49,1332.49 853.92,1332.46 859.35,1332.44 864.78,1332.41 870.21,1332.38 875.64,1332.35 881.07,1332.33 886.50,1332.30 891.93,1332.27 897.36,1332.24 902.79,1332.21 908.22,1332.19" fill="none" stroke="#e74c3c" stroke-opacity="0.8" stroke-width="4.167" stroke-linecap="square" stroke-linejoin="round"/>
<polyline points="424.95,1337.04 430.38,1336.97 435.81,1336.91 441.24,1336.84 446.67,1336.76 452.10,1336.68 457.53,1336.60 462.96,1336.51 468.39,1336.42 473.82,1336.33 479.25,1336.23 484.68,1336.12 490.11,1336.01 495.54,1335.89 500.97,1335.77 506.40,1335.64 511.83,1335.50 517.26,1335.36 522.69,1335.21 528.12,1335.06 533.55,1334.89 538.98,1334.72 544.41,1334.53 549.84,1334.34 555.27,1334.14 560.70,1333.93 566.13,1333.71 571.56,1333.47 576.99,1333.22 582.42,1332.97 587.85,1332.69 593.28,1332.41 598.71,1332.11 604.14,1331.79 609.57,1331.46 615.00,1331.11 620.43,1330.75 625.86,1330.36 631.29,1329.96 636.72,1329.53 642.15,1329.09 647.58,1328.62 653.01,1328.12 658.44,1327.60 663.87,1327.06 669.30,1326.49 674.73,1325.88 680.16,1325.25 685.59,1324.59 691.02,1323.89 696.45,1323.15 701.88,1322.38 707.31,1321.57 712.74,1320.72 718.17,1319.82 723.60,1318.88 729.03,1317.89 734.46,1316.85 739.89,1315.76 745.32,1314.61 750.75,1313.40 756.18,1312.13 761.61,1310.80 767.04,1309.40 772.47,1307.93 777.90,1306.38 783.33,1304.75 788.76,1303.04 794.19,1301.25 799.62,1299.36 805.05,1297.37 810.48,1295.29 815.91,1293.10 821.34,1290.79 826.77,1288.37 832.20,1285.83 837.63,1283.16 843.06,1280.35 848.49,1277.39 853.92,1274.29 859.35,1271.03 864.78,1267.60 870.21,1264.00 875.64,1260.21 881.07,1256.23 886.50,1252.05 891.93,1247.65 897.36,1243.04 902.79,1238.18 908.22,1233.08" fill="none" stroke="#f39c12" stroke-opacity="0.8" stroke-width="4.167" stroke-linecap="square" stroke-linejoin="round"/>
<polyline points="479.25,1336.42 484.68,1336.40 490.11,1336.36 495.54,1336.33 500.97,1336.28 506.40,1336.23 511.83,1336.16 517.26,1336.08 522.69,1335.99 528.12,1335.88 533.55,1335.75 538.98,1335.59 544.41,1335.40 549.84,1335.18 555.27,1334.91 560.70,1334.59 566.13,1334.21 571.56,1333.75 576.99,1333.21 582.42,1332.56 587.85,1331.79 593.28,1330.86 598.71,1329.76 604.14,1328.45 609.57,1326.88 615.00,1325.01 620.43,1322.78 625.86,1320.11 631.29,1316.94 636.72,1313.14 642.15,1308.62 647.58,1303.22 653.01,1296.78 658.44,1289.09 663.87,1279.92 669.30,1268.97 674.73,1255.92 680.16,1240.35 685.59,1221.79 691.02,1199.70 696.45,1173.45 701.88,1142.42 707.31,1106.10 712.74,1064.41 718.17,1018.35 723.60,970.85 729.03,926.96 734.46,892.00 739.89,868.24 745.32,854.16 750.75,846.57 756.18,842.71 761.61,840.80 767.04,839.87 772.47,839.42 777.90,839.20 783.33,839.10 788.76,839.05 794.19,839.02 799.62,839.01 805.05,839.01 810.48,839.00 815.91,839.00 821.34,839.00 826.77,839.00 832.20,839.00 837.63,839.00 843.06,839.00 848.49,839.00 853.92,839.00 859.35,839.00 864.78,839.00 870.21,839.00 875.64,839.00 881.07,839.00 886.50,839.00 891.93,839.00 897.36,839.00 902.79,839.00 908.22,839.00" fill="none" stroke="#3498db" stroke-opacity="0.8" stroke-width="4.167" stroke-linecap="square" stroke-linejoin="round"/>
<polyline points="533.55,1336.32 538.98,1336.17 544.41,1336.00 549.84,1335.81 555.27,1335.59 560.70,1335.33 566.13,1335.04 571.56,1334.70 576.99,1334.31 582.42,1333.86 587.85,1333.34 593.28,1332.74 598.71,1332.06 604.14,1331.27 609.57,1330.36 615.00,1329.32 620.43,1328.12 625.86,1326.73 631.29,1325.14 636.72,1323.31 642.15,1321.20 647.58,1318.77 653.01,1315.98 658.44,1312.77 663.87,1309.07 669.30,1304.81 674.73,1299.91 680.16,1294.27 685.59,1287.78 691.02,1280.33 696.45,1271.75 701.88,1261.90 707.31,1250.60 712.74,1237.64 718.17,1222.84 723.60,1205.98 729.03,1186.90 734.46,1165.47 739.89,1141.74 745.32,1115.94 750.75,1088.62 756.18,1060.74 761.61,1033.59 767.04,1008.58 772.47,986.93 777.90,969.32 783.33,955.80 788.76,945.90 794.19,938.93 799.62,934.17 805.05,930.97 810.48,928.85 815.91,927.46 821.34,926.56 826.77,925.97 832.20,925.59 837.63,925.35 843.06,925.19 848.49,925.09 853.92,925.02 859.35,924.98 864.78,924.95 870.21,924.94 875.64,924.92 881.07,924.92 886.50,924.91 891.93,924.91 897.36,924.91 902.79,924.91 908.22,924.91" fill="none" stroke="#27ae60" stroke-opacity="0.8" stroke-width="4.167" stroke-linecap="square" stroke-linejoin="round"/>
<polyline points="560.70,1335.39 566.13,1335.04 571.56,1334.63 576.99,1334.14 582.42,1333.57 587.85,1332.88 593.28,1332.08 598.71,1331.12 604.14,1329.99 609.57,1328.64 615.00,1327.06 620.43,1325.18 625.86,1322.96 631.29,1320.32 636.72,1317.21 642.15,1313.52 647.58,1309.15 653.01,1303.98 658.44,1297.87 663.87,1290.63 669.30,1282.06 674.73,1271.93 680.16,1259.95 685.59,1245.80 691.02,1229.13 696.45,1209.56 701.88,1186.72 707.31,1160.36 712.74,1130.52 718.17,1097.81 723.60,1063.72 729.03,1030.73 734.46,1001.74 739.89,978.87 745.32,962.62 750.75,952.03 756.18,945.55 761.61,941.74 767.04,939.56 772.47,938.33 777.90,937.64 783.33,937.26 788.76,937.04 794.19,936.92 799.62,936.86 805.05,936.82 810.48,936.80 815.91,936.79 821.34,936.79 826.77,936.78 832.20,936.78 837.63,936.78 843.06,936.78 848.49,936.78 853.92,936.78 859.35,936.78 864.78,936.78 870.21,936.78 875.64,936.78 881.07,936.78 886.50,936.78 891.93,936.78 897.36,936.78 902.79,936.78 908.22,936.78" fill="none" stroke="#9b59b6" stroke-opacity="0.8" stroke-width="4.167" stroke-linecap="square" stroke-linejoin="round"/>
<line x1="234.90" y1="1214.47" x2="913.65" y2="1214.47" stroke="#000" stroke-width="4.167" stroke-dasharray="4.17 6.88"/>
</g>
<rect x="235.00" y="829.00" width="679.00" height="509.00" fill="none" stroke="#000" stroke-width="1.667"/>
<line x1="262.00" y1="1338.00" x2="262.00" y2="1345.29" stroke="#000" stroke-width="1.667" />
<text x="262.05" y="1369.00" font-size="20.833" text-anchor="middle" fill="#000" >1960</text>
<line x1="371.00" y1="1338.00" x2="371.00" y2="1345.29" stroke="#000" stroke-width="1.667" />
<text x="370.65" y="1369.00" font-size="20.833" text-anchor="middle" fill="#000" >1980</text>
<line x1="479.00" y1="1338.00" x2="479.00" y2="1345.29" stroke="#000" stroke-width="1.667" />
<text x="479.25" y="1369.00" font-size="20.833" text-anchor="middle" fill="#000" >2000</text>
<line x1="588.00" y1="1338.00" x2="588.00" y2="1345.29" stroke="#000" stroke-width="1.667" />
<text x="587.85" y="1369.00" font-size="20.833" text-anchor="middle" fill="#000" >2020</text>
<line x1="696.00" y1="1338.00" x2="696.00" y2="1345.29" stroke="#000" stroke-width="1.667" />
<text x="696.45" y="1369.00" font-size="20.833" text-anchor="middle" fill="#000" >2040</text>
<line x1="805.00" y1="1338.00" x2="805.00" y2="1345.29" stroke="#000" stroke-width="1.667" />
<text x="805.05" y="1369.00" font-size="20.833" text-anchor="middle" fill="#000" >2060</text>
<line x1="914.00" y1="1338.00" x2="914.00" y2="1345.29" stroke="#000" stroke-width="1.667" />
<text x="913.65" y="1369.00" font-size="20.833" text-anchor="middle" fill="#000" >2080</text>
<line x1="227.71" y1="1338.00" x2="235.00" y2="1338.00" stroke="#000" stroke-width="1.667" />
<text x="219.72" y="1346.00" font-size="20.833" text-anchor="end" fill="#000" >0</text>
<line x1="227.71" y1="1270.00" x2="235.00" y2="1270.00" stroke="#000" stroke-width="1.667" />
<text x="219.72" y="1278.00" font-size="20.833" text-anchor="end" fill="#000" >2000</text>
<line x1="227.71" y1="1203.00" x2="235.00" y2="1203.00" stroke="#000" stroke-width="1.667" />
<text x="219.72" y="1211.00" font-size="20.833" text-anchor="end" fill="#000" >4000</text>
<line x1="227.71" y1="1135.00" x2="235.00" y2="1135.00" stroke="#000" stroke-width="1.667" />
<text x="219.72" y="1143.00" font-size="20.833" text-anchor="end" fill="#000" >6000</text>
<line x1="227.71" y1="1067.00" x2="235.00" y2="1067.00" stroke="#000" stroke-width="1.667" />
<text x="219.72" y="1075.00" font-size="20.833" text-anchor="end" fill="#000" >8000</text>
<line x1="227.71" y1="999.00" x2="235.00" y2="999.00" stroke="#000" stroke-width="1.667" />
<text x="219.72" y="1007.00" font-size="20.833" text-anchor="end" fill="#000" >10000</text>
<line x1="227.71" y1="931.00" x2="235.00" y2="931.00" stroke="#000" stroke-width="1.667" />
<text x="219.72" y="939.00" font-size="20.833" text-anchor="end" fill="#000" >12000</text>
<line x1="227.71" y1="863.00" x2="235.00" y2="863.00" stroke="#000" stroke-width="1.667" />
<text x="219.72" y="871.00" font-size="20.833" text-anchor="end" fill="#000" >14000</text>
<text x="574.27" y="791.00" font-size="25.000" text-anchor="middle" fill="#000" >Richards Model Predictions</text>
<text x="574.27" y="818.00" font-size="25.000" text-anchor="middle" fill="#000" >(Different Data Windows)</text>
<text x="574.27" y="1396.80" font-size="22.917" text-anchor="middle" fill="#000" >Year</text>
<text transform="translate(148.0,1085.00) rotate(-90)" font-size="22.917" text-anchor="middle">Annual Launches</text>
<rect x="243.20" y="838.00" width="215.70" height="167.60" rx="3.33" ry="3.33" fill="#fff" fill-opacity="0.8" stroke="#ccc" stroke-opacity="0.8" stroke-width="2.083"/>
<circle cx="267.53" cy="852.40" r="5.71" fill="#808080" fill-opacity="0.5" stroke="#808080" stroke-opacity="0.5" stroke-width="2.083"/>
<text x="295.73" y="857.10" font-size="16.667" text-anchor="start" fill="#000" >Historical Data</text>
<line x1="249.87" y1="874.50" x2="283.20" y2="874.50" stroke="#e74c3c" stroke-opacity="0.8" stroke-width="4.167" stroke-linecap="square"/>
<text x="295.73" y="880.40" font-size="16.667" text-anchor="start" fill="#000" >1957-2025: K=500</text>
<line x1="249.87" y1="897.90" x2="283.20" y2="897.90" stroke="#f39c12" stroke-opacity="0.8" stroke-width="4.167" stroke-linecap="square"/>
<text x="295.73" y="903.80" font-size="16.667" text-anchor="start" fill="#000" >1990-2025: K=9057</text>
<line x1="249.87" y1="921.00" x2="283.20" y2="921.00" stroke="#3498db" stroke-opacity="0.8" stroke-width="4.167" stroke-linecap="square"/>
<text x="295.73" y="926.90" font-size="16.667" text-anchor="start" fill="#000" >2000-2025: K=14717</text>
<line x1="249.87" y1="944.20" x2="283.20" y2="944.20" stroke="#27ae60" stroke-opacity="0.8" stroke-width="4.167" stroke-linecap="square"/>
<text x="295.73" y="950.10" font-size="16.667" text-anchor="start" fill="#000" >2010-2025: K=12185</text>
<line x1="249.87" y1="967.50" x2="283.20" y2="967.50" stroke="#9b59b6" stroke-opacity="0.8" stroke-width="4.167" stroke-linecap="square"/>
<text x="295.73" y="973.40" font-size="16.667" text-anchor="start" fill="#000" >2015-2025: K=11835</text>
<line x1="249.87" y1="990.90" x2="282.20" y2="990.90" stroke="#000" stroke-width="4.167" stroke-dasharray="4.17 6.88"/>
<text x="295.73" y="996.80" font-size="16.667" text-anchor="start" fill="#000" >Physical Max (3650)</text>
<rect x="1194.60" y="832.70" width="947.30" height="914.10" rx="6.25" ry="6.25" fill="#ffffe0" fill-opacity="0.9" stroke="#000" stroke-opacity="0.9" stroke-width="2.083"/>
<g font-family="DejaVu Sans Mono, monospace" font-size="20.833" letter-spacing="0.0823" class="m">
<text x="1200.85" y="879.90">┌────────────────────────────────────────────────────────────────────────┐</text>
<text x="1200.85" y="908.84">│              &#xE000;&#xE000;&#xE000;&#xE000;&#xE000; K &#xE000;&#xE000;&#xE000;&#xE000;&#xE000;&#xE000;&#xE000;                               │</text>
<text x="1200.85" y="937.78">├────────────────────────────────────────────────────────────────────────┤</text>
<text x="1200.85" y="966.72">│                                                                        │</text>
<text x="1200.85" y="995.66">│  &#xE000;&#xE000;&#xE000;&#xE000;:                                                             │</text>
<text x="1200.85" y="1024.60">│  ─────────                                                             │</text>
<text x="1200.85" y="1053.54">│  1. &#xE000;&#xE000;&#xE000;&#xE000;&#xE000;&#xE000;&#xE000; K &#xE000;&#xE000;&#xE000;&#xE000;&#xE000;&#xE000;                                      │</text>
<text x="1200.85" y="1082.48">│     • &#xE000;&#xE000;&#xE000;&#xE000;: K ≈ 500                                                │</text>
<text x="1200.85" y="1111.42">│     • &#xE000;15&#xE000;:   K ≈ 12,000                                             │</text>
<text x="1200.85" y="1140.36">│                                                                        │</text>
<text x="1200.85" y="1169.30">│  2. 1957-2025 &#xE000;&#xE000;&#xE000;&#xE000;:                                                │</text>
<text x="1200.85" y="1198.24">│     • R² = 0.08 (&#xE000;&#xE000;&#xE000;&#xE000;)                                             │</text>
<text x="1200.85" y="1227.18">│     • &#xE000;&#xE000;&#xE000;&#xE000;&#xE000;&#xE000;&#xE000;&#xE000;&#xE000;&#xE000;&#xE000;&#xE000;&#xE000;&#xE000;&quot;&#xE000;&#xE000;&#xE000;&quot;                             │</text>
<text x="1200.85" y="1256.12">│     • &#xE000;&#xE000;&#xE000;&#xE000;&#xE000;&#xE000;&#xE000;&#xE000;&#xE000;&#xE000;&#xE000;                                           │</text>
<text x="1200.85" y="1285.06">│                                                                        │</text>
<text x="1200.85" y="1314.00">│  3. 2010-2025 &#xE000;15&#xE000;&#xE000;&#xE000;:                                              │</text>
<text x="1200.85" y="1342.94">│     • R² = 0.90 (&#xE000;&#xE000;&#xE000;&#xE000;)                                             │</text>
<text x="1200.85" y="1371.88">│     • &#xE000;&#xE000;&#xE000;&#xE000;&#xE000;&#xE000;&#xE000;&#xE000;&#xE000;&#xE000;&#xE000;&#xE000;&#xE000;&#xE000;&#xE000;                                   │</text>
<text x="1200.85" y="1400.82">│     • &#xE000;&#xE000; K ≈ 12,000 &gt;&gt; &#xE000;&#xE000;&#xE000;&#xE000; (3,650)                              │</text>
<text x="1200.85" y="1429.76">│                                                                        │</text>
<text x="1200.85" y="1458.70">│  &#xE000;&#xE000;:                                                                 │</text>
<text x="1200.85" y="1487.64">│  ─────                                                                 │</text>
<text x="1200.85" y="1516.58">│  • &#xE000;&#xE000; 2010-2025 &#xE000;&#xE000;&#xE000;&#xE000;&#xE000;&#xE000;&#xE000;&#xE000; (R² = 0.90, &#xE000;&#xE000;&#xE000;&#xE000;&#xE000;&#xE000;)           │</text>
<text x="1200.85" y="1545.52">│  • &#xE000;&#xE000;&#xE000;&#xE000; K ≈ 12,000 &#xE000;&#xE000;&#xE000;&#xE000;&#xE000;&#xE000; (&#xE000;&#xE000; ~33 &#xE000;&#xE000;&#xE000;&#xE000;)                │</text>
<text x="1200.85" y="1574.46">│  • &#xE000;&#xE000;&#xE000;&#xE000;&#xE000; (10&#xE000; × 365&#xE000; = 3,650) &#xE000;&#xE000;&#xE000;&#xE000;&#xE000;&#xE000;&#xE000;                    │</text>
<text x="1200.85" y="1603.40">│  • &#xE000;&#xE000;&#xE000;&#xE000; 1 &#xE000;/&#xE000;/&#xE000; &#xE000;&#xE000;&#xE000;&#xE000;&#xE000;&#xE000;&#xE000;&#xE000;&#xE000;&#xE000;                            │</text>
<text x="1200.85" y="1632.34">│                                                                        │</text>
<text x="1200.85" y="1661.28">│  &#xE000;&#xE000;&#xE000;&#xE000;: 3,650 &#xE000;/&#xE000; (10&#xE000;&#xE000;&#xE000;&#xE000; × 365&#xE000;)                            │</text>
<text x="1200.85" y="1690.22">│                                                                        │</text>
<text x="1200.85" y="1714.20">└────────────────────────────────────────────────────────────────────────┘</text>
</g>
</svg>
</body></html>
